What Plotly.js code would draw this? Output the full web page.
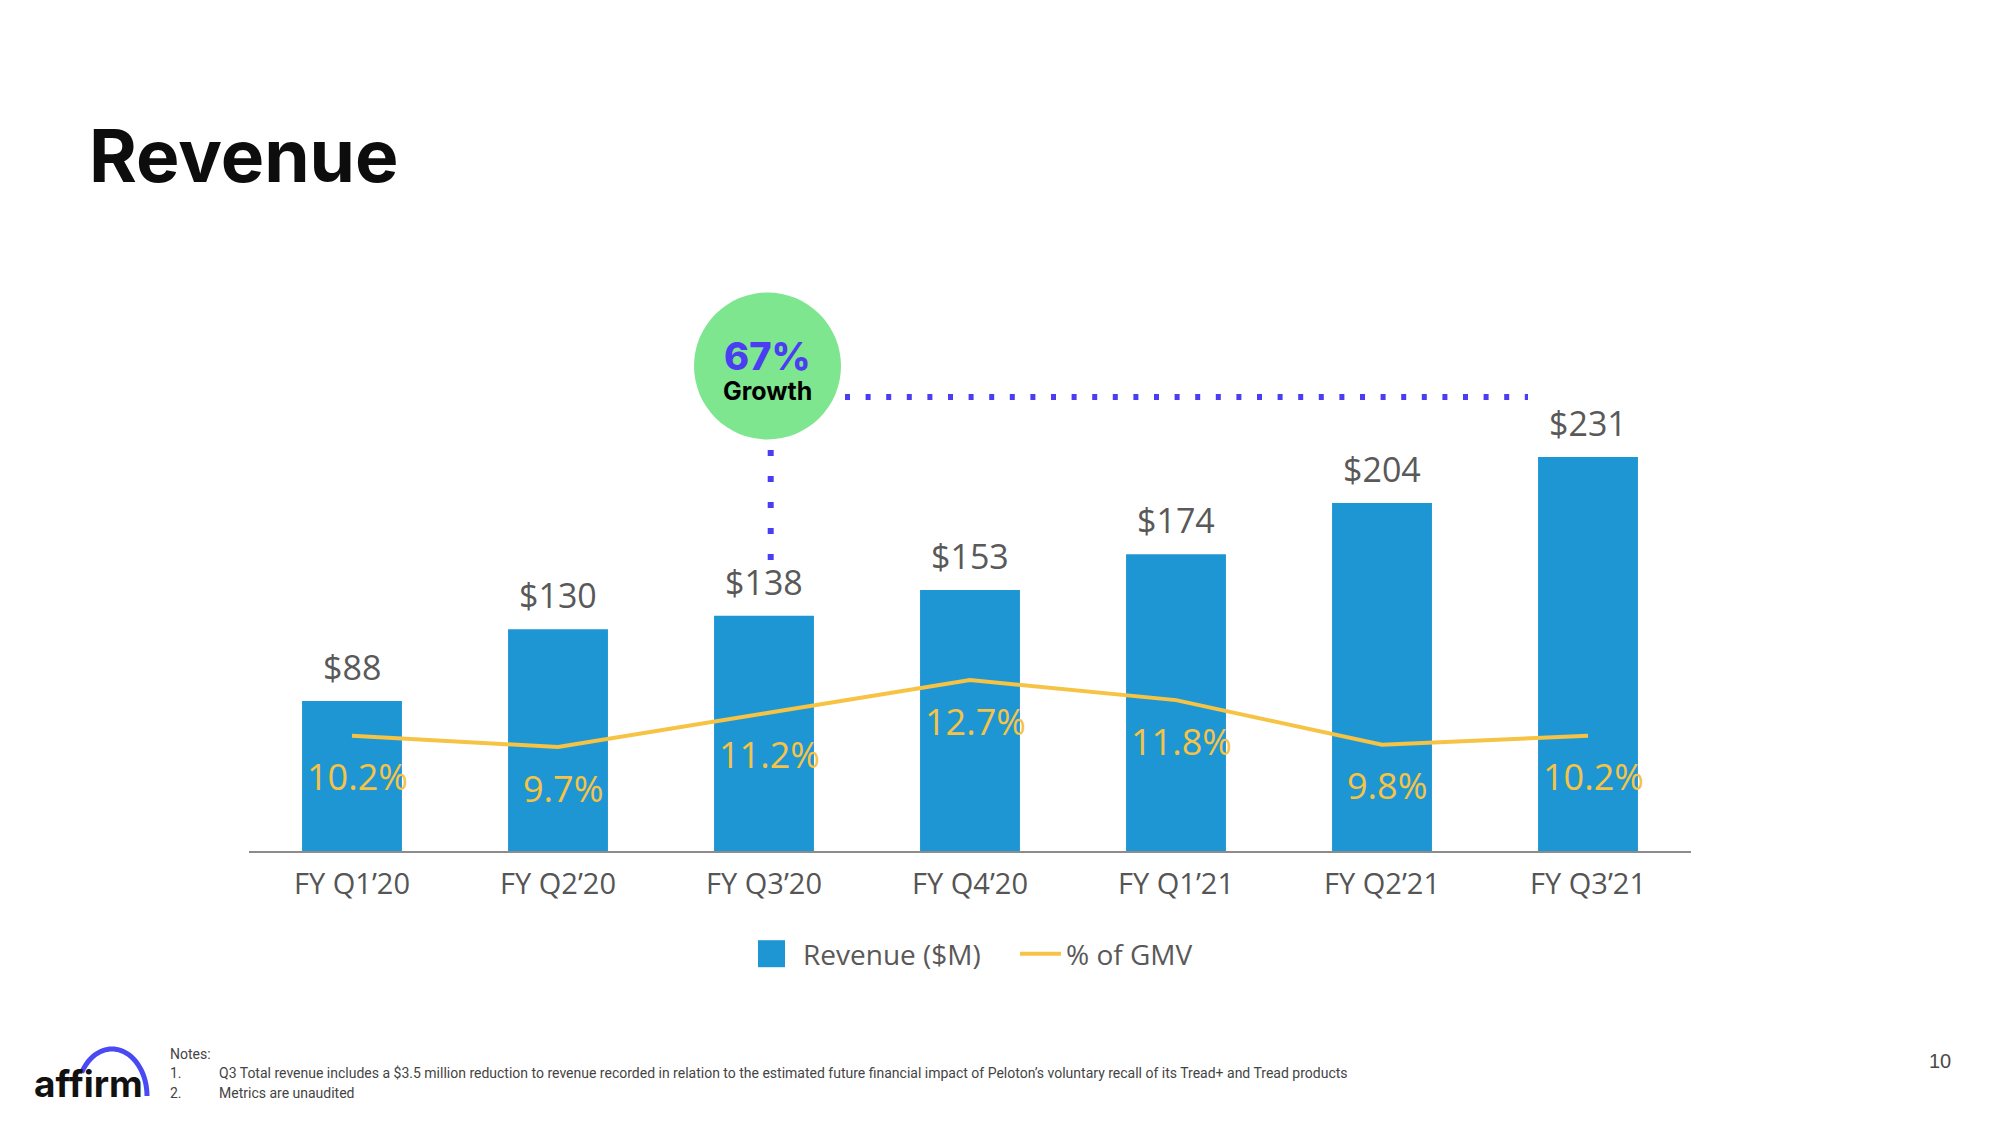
<!DOCTYPE html>
<html><head><meta charset="utf-8">
<script src="https://cdn.plot.ly/plotly-3.0.1.min.js"></script>
<style>html,body{margin:0;padding:0;background:#fff;}#chart{width:2000px;height:1125px;}</style>
</head><body><div id="chart"></div>
<script>
// ---- data ----
const categories = ["FY Q1\u201920","FY Q2\u201920","FY Q3\u201920","FY Q4\u201920","FY Q1\u201921","FY Q2\u201921","FY Q3\u201921"];
const revenue = [88,130,138,153,174,204,231];
const gmvPct = [10.2,9.7,11.2,12.7,11.8,9.8,10.2];
const seriesNames = ["Revenue ($M)","% of GMV"];
const titleText = "Revenue";
const growthFrom = 2, growthTo = 6;
const notesHeader = "Notes:";
const notes = ["Q3 Total revenue includes a $3.5 million reduction to revenue recorded in relation to the estimated future financial impact of Peloton\u2019s voluntary recall of its Tread+ and Tread products","Metrics are unaudited"];
const pageNumber = "10";
const logoText = "affirm";

// ---- geometry helpers (pixels -> paper) ----
const W=2000,H=1125,L=249,R=1691,T=120,B=851;
const pw=R-L, ph=B-T;
const px = X => (X-L)/pw;
const py = Y => (B-Y)/ph;

const barColor="#1F96D4", lineColor="#F6C344", grey="#595959", violet="#4B3DF2";
const labelFont={family:"Open Sans",size:34,color:grey};

const traces=[
 {type:"bar",x:categories,y:revenue,name:seriesNames[0],marker:{color:barColor},hoverinfo:"none"},
 {type:"scatter",mode:"lines",x:categories,y:gmvPct,yaxis:"y2",name:seriesNames[1],line:{color:lineColor,width:4},hoverinfo:"none"}
];

const annotations=[];
categories.forEach((c,i)=>{
  annotations.push({x:c,y:revenue[i],xref:"x",yref:"y",text:"$"+revenue[i],showarrow:false,yanchor:"bottom",yshift:9,font:labelFont});
  annotations.push({x:c,y:gmvPct[i],xref:"x",yref:"y2",text:gmvPct[i].toFixed(1)+"%",showarrow:false,yanchor:"middle",yshift:-41,xshift:5,font:{family:"Open Sans",size:36,color:lineColor}});
});
const growth=Math.round((revenue[growthTo]/revenue[growthFrom]-1)*100);
annotations.push({xref:"paper",yref:"paper",x:px(767.5),y:py(356),text:growth+"%",showarrow:false,xanchor:"center",yanchor:"middle",font:{family:"Inter",size:38,weight:800,color:violet}});
annotations.push({xref:"paper",yref:"paper",x:px(767.5),y:py(391),text:"Growth",showarrow:false,xanchor:"center",yanchor:"middle",font:{family:"Inter",size:25,weight:700,color:"#000"}});
// notes
const noteFont={family:"Roboto",size:14,color:"#444"};
annotations.push({xref:"paper",yref:"paper",x:px(168),y:py(1054),text:notesHeader,showarrow:false,xanchor:"left",yanchor:"middle",font:noteFont});
notes.forEach((n,i)=>{
  const yy=1073+i*20;
  annotations.push({xref:"paper",yref:"paper",x:px(168),y:py(yy),text:(i+1)+".",showarrow:false,xanchor:"left",yanchor:"middle",font:noteFont});
  annotations.push({xref:"paper",yref:"paper",x:px(217),y:py(yy),text:n,showarrow:false,xanchor:"left",yanchor:"middle",font:noteFont});
});
annotations.push({xref:"paper",yref:"paper",x:px(1940),y:py(1061),text:pageNumber,showarrow:false,xanchor:"center",yanchor:"middle",font:{family:"Liberation Sans",size:20,color:"#4a4a4a"}});
annotations.push({xref:"paper",yref:"paper",x:px(32),y:py(1083),text:logoText,showarrow:false,xanchor:"left",yanchor:"middle",font:{family:"Inter",size:37,weight:700,color:"#111"}});

// logo arc path
let arc="";
for(let k=0;k<=40;k++){
  const a=Math.PI*(150-150*k/40)/180;
  const X=112+35*Math.cos(a), Y=1096-47*Math.sin(a);
  arc+=(k===0?"M":"L")+px(X).toFixed(5)+","+py(Y).toFixed(5);
}

const shapes=[
 {type:"circle",xref:"paper",yref:"paper",xsizemode:"pixel",ysizemode:"pixel",xanchor:px(767.5),yanchor:py(366),x0:-73.5,x1:73.5,y0:-73.5,y1:73.5,fillcolor:"#7EE68F",line:{width:0},layer:"below"},
 {type:"line",xref:"paper",yref:"paper",x0:px(845),x1:px(1528),y0:py(397),y1:py(397),line:{color:violet,width:6,dash:"5px,15.6px"}},
 {type:"line",xref:"paper",yref:"paper",x0:px(770.7),x1:px(770.7),y0:py(450),y1:py(561),line:{color:violet,width:6,dash:"6px,20px"}},
 {type:"path",xref:"paper",yref:"paper",path:arc,line:{color:"#4A4AF4",width:5}}
];

const layout={
 width:W,height:H,autosize:false,
 margin:{l:L,r:W-R,t:T,b:H-B,pad:0},
 paper_bgcolor:"#fff",plot_bgcolor:"#fff",
 title:{text:titleText,x:89/W,xref:"container",xanchor:"left",y:1-156/H,yref:"container",yanchor:"middle",font:{family:"Inter",size:73,weight:700,color:"#0d0d0d"}},
 bargap:0.515,
 showlegend:true,
 legend:{orientation:"h",x:px(752),xanchor:"left",y:py(954),yanchor:"middle",font:{family:"Open Sans",size:28,color:grey},itemwidth:41,entrywidth:207,entrywidthmode:"pixels",traceorder:"normal"},
 xaxis:{type:"category",range:[-0.5,6.5],showline:true,linecolor:"#8c8c8c",linewidth:2,ticks:"",ticklabelstandoff:6,showgrid:false,zeroline:false,tickfont:{family:"Open Sans",size:29,color:"#555"},fixedrange:true},
 yaxis:{range:[0,ph/1.7056],visible:false,showgrid:false,zeroline:false,fixedrange:true},
 yaxis2:{range:[9.7-(B-747)/22.33,9.7-(B-747)/22.33+ph/22.33],overlaying:"y",visible:false,showgrid:false,zeroline:false,fixedrange:true},
 annotations:annotations,
 shapes:shapes
};

Plotly.newPlot("chart",traces,layout,{staticPlot:true,displayModeBar:false}).then(gd=>{
  const pts=gd.querySelectorAll(".legend .traces");
  if(pts.length){
    const p=pts[0].querySelector(".legendpoints path");
    if(p){ p.setAttribute("transform","translate(19.5,0) scale(2.25)"); }
  }
});
</script></body></html>
